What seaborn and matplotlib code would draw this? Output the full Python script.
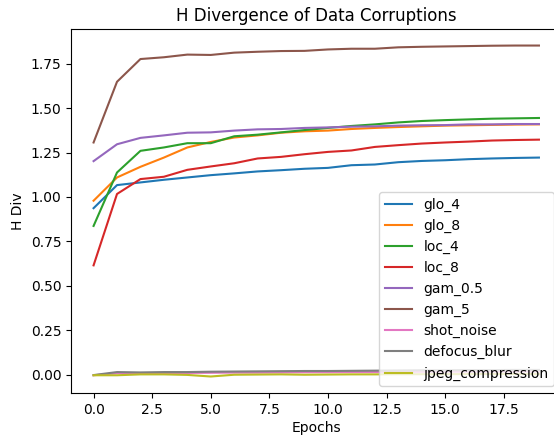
import pandas as pd
import matplotlib
matplotlib.use("Agg")
import matplotlib.pyplot as plt
import seaborn as sns

epochs = list(range(20))

glo_4 = [0.937, 1.067, 1.082, 1.097, 1.110, 1.123, 1.133, 1.144, 1.151, 1.159,
         1.164, 1.179, 1.183, 1.196, 1.203, 1.207, 1.213, 1.217, 1.220, 1.222]
glo_8 = [0.979, 1.110, 1.170, 1.222, 1.279, 1.310, 1.335, 1.347, 1.362, 1.370,
         1.374, 1.383, 1.389, 1.394, 1.398, 1.402, 1.404, 1.406, 1.408, 1.409]
loc_4 = [0.837, 1.138, 1.260, 1.279, 1.303, 1.303, 1.342, 1.351, 1.364, 1.377,
         1.389, 1.400, 1.409, 1.420, 1.428, 1.433, 1.437, 1.441, 1.443, 1.445]
loc_8 = [0.615, 1.017, 1.101, 1.114, 1.153, 1.172, 1.190, 1.217, 1.226, 1.241,
         1.254, 1.262, 1.282, 1.292, 1.301, 1.307, 1.312, 1.318, 1.321, 1.323]
gam_0_5 = [1.202, 1.297, 1.333, 1.347, 1.362, 1.364, 1.374, 1.381, 1.383, 1.389,
           1.392, 1.396, 1.398, 1.402, 1.404, 1.405, 1.409, 1.409, 1.411, 1.411]
gam_5 = [1.307, 1.649, 1.777, 1.787, 1.802, 1.800, 1.813, 1.818, 1.822, 1.823,
         1.831, 1.835, 1.835, 1.843, 1.846, 1.848, 1.850, 1.852, 1.853, 1.853]
shot_noise = [-0.004, 0.008, 0.008, 0.009, 0.009, 0.010, 0.011, 0.011, 0.012, 0.013,
              0.013, 0.014, 0.014, 0.015, 0.015, 0.016, 0.016, 0.017, 0.017, 0.018]
defocus_blur = [-0.003, 0.014, 0.012, 0.014, 0.014, 0.016, 0.017, 0.018, 0.019, 0.020,
                0.020, 0.021, 0.022, 0.023, 0.024, 0.024, 0.025, 0.025, 0.026, 0.026]
jpeg_compression = [-0.004, -0.004, 0.001, 0.001, -0.002, -0.011, -0.001, 0.000, 0.001, -0.001,
                    0.000, 0.001, 0.001, 0.002, 0.002, 0.002, 0.003, 0.003, 0.003, 0.003]

series = {
    "glo_4": glo_4,
    "glo_8": glo_8,
    "loc_4": loc_4,
    "loc_8": loc_8,
    "gam_0.5": gam_0_5,
    "gam_5": gam_5,
    "shot_noise": shot_noise,
    "defocus_blur": defocus_blur,
    "jpeg_compression": jpeg_compression,
}

fig = plt.figure(figsize=(5.54, 4.36), dpi=100)
# axes run slightly past the right edge, as in the reference crop
ax = fig.add_axes([0.1287, 0.0985, 1.013 - 0.1287, 0.9335 - 0.0985])

colors = plt.rcParams["axes.prop_cycle"].by_key()["color"]
for i, (name, vals) in enumerate(series.items()):
    sns.lineplot(x=epochs, y=vals, ax=ax, label=name, color=colors[i % len(colors)])

ax.set_title("H Divergence of Data Corruptions")
ax.set_xlabel("Epochs", labelpad=3)
ax.set_ylabel("H Div")
ax.legend(loc="lower right")

fig.savefig("out.png", dpi=100)
